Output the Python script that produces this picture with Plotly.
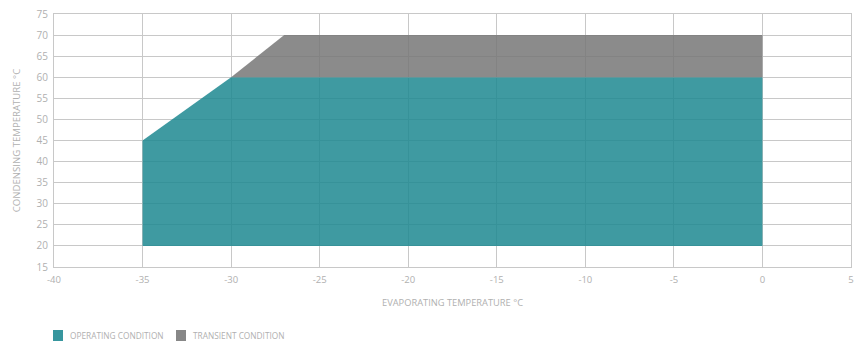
import plotly.graph_objects as go

# Operating envelope (evaporating °C, condensing °C)
operating_evap = [-35, -35, -30, 0, 0, -35]
operating_cond = [20, 45, 60, 60, 20, 20]

# Transient envelope above the operating region
transient_evap = [-30, -27, 0, 0, -30]
transient_cond = [60, 70, 70, 60, 60]

x_ticks = [-40, -35, -30, -25, -20, -15, -10, -5, 0, 5]
y_ticks = [15, 20, 25, 30, 35, 40, 45, 50, 55, 60, 65, 70, 75]

legend_labels = ["OPERATING CONDITION", "TRANSIENT CONDITION"]

teal = "rgba(32,137,145,0.86)"
gray = "rgba(120,120,120,0.86)"
key_colors = ["rgb(55,150,158)", "rgb(135,135,135)"]
text_col = "#b0b0b0"
font_family = "Open Sans, sans-serif"

fig = go.Figure()
fig.add_trace(go.Scatter(
    x=operating_evap, y=operating_cond, mode="lines", fill="toself",
    fillcolor=teal, line=dict(width=0, color=teal),
    name=legend_labels[0], hoverinfo="skip", showlegend=False,
))
fig.add_trace(go.Scatter(
    x=transient_evap, y=transient_cond, mode="lines", fill="toself",
    fillcolor=gray, line=dict(width=0, color=gray),
    name=legend_labels[1], hoverinfo="skip", showlegend=False,
))

axis_common = dict(
    showgrid=True, gridcolor="#c8c8c8", gridwidth=1,
    showline=True, linecolor="#c8c8c8", linewidth=1, mirror=True,
    zeroline=False, ticks="", automargin=False,
)

fig.update_layout(
    width=854, height=343,
    margin=dict(l=54, r=3, t=14, b=76),
    paper_bgcolor="white", plot_bgcolor="white",
    font=dict(family=font_family, color=text_col),
    xaxis=dict(
        range=[-40, 5], tickvals=x_ticks, ticktext=[str(v) for v in x_ticks],
        ticklabelstandoff=4,
        tickfont=dict(size=9.5, color=text_col, family=font_family),
        title=dict(text="EVAPORATING TEMPERATURE °C", font=dict(size=9.3, color=text_col), standoff=14),
        **axis_common,
    ),
    yaxis=dict(
        range=[15, 75], tickvals=y_ticks, ticktext=[str(v) for v in y_ticks],
        ticklabelstandoff=3,
        tickfont=dict(size=10, color=text_col, family=font_family),
        title=dict(text="CONDENSING TEMPERATURE °C", font=dict(size=9.6, color=text_col), standoff=14),
        **axis_common,
    ),
    showlegend=False,
)

# Legend keys: small squares followed by labels along the bottom edge
key_x = [53, 176]
for label, col, kx in zip(legend_labels, key_colors, key_x):
    fig.add_shape(
        type="rect", xref="paper", yref="paper",
        x0=(kx - 54) / 797, x1=(kx + 10 - 54) / 797,
        y0=-(341 - 267) / 253, y1=-(330 - 267) / 253,
        fillcolor=col, line=dict(width=0),
    )
    fig.add_annotation(
        text=label, xref="paper", yref="paper",
        x=(kx + 15 - 54) / 797, xanchor="left",
        y=-(335.5 - 267) / 253, yanchor="middle",
        showarrow=False, font=dict(size=8.3, color=text_col, family=font_family),
    )

fig.write_html("out.html")
